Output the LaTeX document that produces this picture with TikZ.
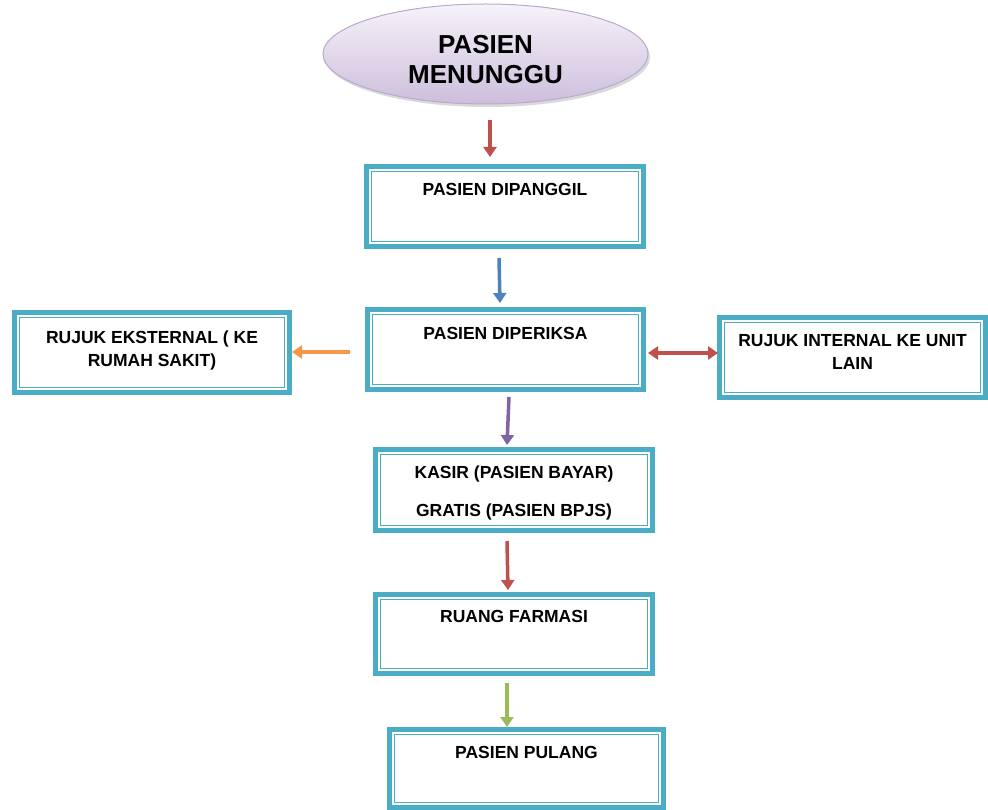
\documentclass[tikz,border=0pt]{standalone}
\usepackage{fontspec}
\setmainfont{Liberation Sans}
\usetikzlibrary{arrows.meta,shapes.geometric,shadows}
\definecolor{aqua}{HTML}{4BACC6}
\definecolor{ored}{HTML}{C0504D}
\definecolor{oblue}{HTML}{4F81BD}
\definecolor{opurple}{HTML}{8064A2}
\definecolor{oorange}{HTML}{F79646}
\definecolor{ogreen}{HTML}{9BBB59}
\definecolor{elltop}{HTML}{F6F2FA}
\definecolor{ellbot}{HTML}{CDBEDC}
\definecolor{elledge}{HTML}{B9A9CB}
\newcommand\boxtxt[2]{\raisebox{#1}[0pt][0pt]{\begin{tabular}[t]{@{}c@{}}#2\end{tabular}}}
\begin{document}
\begin{tikzpicture}[x=1pt,y=-1pt,
  stepbox/.style={rectangle, draw=aqua, line width=5pt, fill=white, inner sep=0pt, outer sep=0pt,
    font=\fontsize{17.5}{23}\selectfont\bfseries},
  innerline/.style={draw=aqua, line width=1.4pt},
  startell/.style={ellipse, draw=elledge, line width=1pt, top color=elltop, bottom color=ellbot,
    inner sep=0pt, outer sep=0pt, minimum width=325pt, minimum height=100pt,
    drop shadow={shadow xshift=2pt, shadow yshift=-3pt, opacity=0.3},
    font=\fontsize{26}{30}\selectfont\bfseries},
  arr/.style={line width=3.5pt, -{Triangle[width=13pt,length=10pt]}},
  darr/.style={line width=3.5pt, {Triangle[width=13pt,length=10pt]}-{Triangle[width=13pt,length=10pt]}}
]
\useasboundingbox (0,0) rectangle (988,810);

\node[startell] (ell) at (485.5,54) {\boxtxt{0pt}{PASIEN\\MENUNGGU}};

\node[stepbox, minimum width=277pt, minimum height=80pt] (b1) at (505,206.5)
  {\boxtxt{11.25pt}{PASIEN DIPANGGIL}};
\node[stepbox, minimum width=276pt, minimum height=80pt] (b2) at (505.5,349.5)
  {\boxtxt{10.25pt}{PASIEN DIPERIKSA}};
\node[stepbox, minimum width=275pt, minimum height=80pt] (eks) at (152,352.5)
  {\boxtxt{9.25pt}{RUJUK EKSTERNAL ( KE\\RUMAH SAKIT)}};
\node[stepbox, minimum width=266pt, minimum height=80pt] (int) at (852.5,357.5)
  {\boxtxt{11.25pt}{RUJUK INTERNAL KE UNIT\\LAIN}};
\node[stepbox, minimum width=277pt, minimum height=81pt] (kasir) at (514,490)
  {\boxtxt{12pt}{KASIR (PASIEN BAYAR)\\[15pt]GRATIS (PASIEN BPJS)}};
\node[stepbox, minimum width=277pt, minimum height=79pt] (farm) at (514,634)
  {\boxtxt{11.75pt}{RUANG FARMASI}};
\node[stepbox, minimum width=274pt, minimum height=78pt] (pulang) at (526.5,768.5)
  {\boxtxt{10.25pt}{PASIEN PULANG}};

\foreach \n in {b1,b2,eks,int,kasir,farm,pulang}
  \draw[innerline] ([shift={(5pt,-5pt)}]\n.north west) rectangle ([shift={(-5pt,5pt)}]\n.south east);

\draw[arr, ored] ([shift={(4.5,16)}]ell.south) -- ([shift={(-15,-9.5)}]b1.north);
\draw[arr, oblue] ([shift={(-6,11.5)}]b1.south) -- ([shift={(-5.5,-6.5)}]b2.north);
\draw[arr, opurple] ([shift={(3.5,7.5)}]b2.south) -- ([shift={(-7,-4.5)}]kasir.north);
\draw[arr, ored] ([shift={(-7,10.5)}]kasir.south) -- ([shift={(-6,-4.5)}]farm.north);
\draw[arr, ogreen] ([shift={(-7,9.5)}]farm.south) -- ([shift={(-19.5,-2.5)}]pulang.north);
\draw[arr, oorange] ([shift={(-17.5,2.5)}]b2.west) -- ([shift={(2.5,-0.5)}]eks.east);
\draw[darr, ored] ([shift={(4.5,3.5)}]b2.east) -- ([shift={(-1.5,-4.5)}]int.west);
\end{tikzpicture}
\end{document}
